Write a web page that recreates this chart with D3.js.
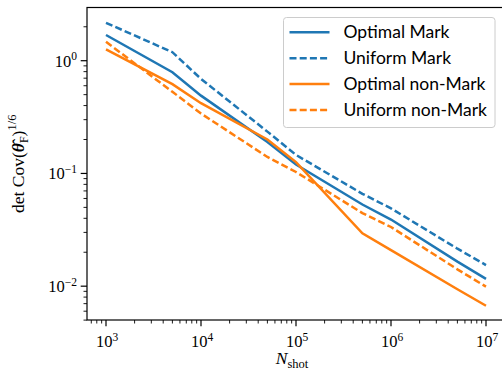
<!DOCTYPE html>
<meta charset="utf-8">
<body style="margin: 0; overflow: hidden; background: white">
<script src="https://d3js.org/d3.v7.min.js"></script>
<script>
    // values
    var nShot = [1e3, 5e3, 1e4, 5e4, 1e5, 5e5, 1e6, 5e6, 1e7];
    var optimalMark = [1.69, 0.79, 0.49, 0.19, 0.12, 0.053, 0.039, 0.0165, 0.0116];
    var uniformMark = [2.17, 1.19, 0.69, 0.235, 0.146, 0.066, 0.049, 0.0215, 0.0154];
    var optimalNonMark = [1.26, 0.62, 0.42, 0.20, 0.126, 0.0294, 0.0209, 0.0094, 0.0067];
    var uniformNonMark = [1.47, 0.53, 0.34, 0.14, 0.103, 0.0445, 0.0335, 0.0141, 0.0099];

    var seriesNames = ["Optimal Mark", "Uniform Mark", "Optimal non-Mark", "Uniform non-Mark"];
    var xTickExps = [3, 4, 5, 6, 7];
    var yTickExps = [-2, -1, 0];

    var width = 502, height = 376;
    // note: "top" is taken by window.top, so prefix these
    var mLeft = 87, mRight = 505, mTop = 7.5, mBottom = 320;

    var blue = "#1f77b4", orange = "#ff7f0e";
    var series = [
        {name: seriesNames[0], values: optimalMark, color: blue, dash: null},
        {name: seriesNames[1], values: uniformMark, color: blue, dash: "7,3.2"},
        {name: seriesNames[2], values: optimalNonMark, color: orange, dash: null},
        {name: seriesNames[3], values: uniformNonMark, color: orange, dash: "7,3.2"}
    ];

    var x = d3.scaleLog().domain([Math.pow(10, 2.8), Math.pow(10, 7.2)]).range([mLeft, mRight]);
    var y = d3.scaleLog().domain([Math.pow(10, -2.30), Math.pow(10, 0.472)]).range([mBottom, mTop]);

    var svg = d3.select("body").append("svg")
        .attr("width", width)
        .attr("height", height);

    var serif = "'Liberation Serif', 'DejaVu Serif', serif";

    // minor + major ticks
    var minorX = [], minorY = [];
    for (var e = 2; e <= 7; e++) {
        for (var m = 2; m <= 9; m++) {
            var v = m * Math.pow(10, e);
            if (x(v) >= mLeft && x(v) <= mRight) minorX.push(v);
        }
    }
    for (var e2 = -3; e2 <= 0; e2++) {
        for (var m2 = 2; m2 <= 9; m2++) {
            var w = m2 * Math.pow(10, e2);
            if (y(w) >= mTop && y(w) <= mBottom + 0.5) minorY.push(w);
        }
    }

    var axisG = svg.append("g");
    axisG.selectAll(".xminor").data(minorX).enter().append("line")
        .attr("x1", function (d) { return x(d); }).attr("x2", function (d) { return x(d); })
        .attr("y1", mBottom).attr("y2", mBottom + 3.5)
        .attr("stroke", "black").attr("stroke-width", 0.9);
    axisG.selectAll(".xmajor").data(xTickExps).enter().append("line")
        .attr("x1", function (d) { return x(Math.pow(10, d)); }).attr("x2", function (d) { return x(Math.pow(10, d)); })
        .attr("y1", mBottom).attr("y2", mBottom + 6.3)
        .attr("stroke", "black").attr("stroke-width", 1.2);
    axisG.selectAll(".yminor").data(minorY).enter().append("line")
        .attr("y1", function (d) { return y(d); }).attr("y2", function (d) { return y(d); })
        .attr("x1", mLeft).attr("x2", mLeft - 3.5)
        .attr("stroke", "black").attr("stroke-width", 0.9);
    axisG.selectAll(".ymajor").data(yTickExps).enter().append("line")
        .attr("y1", function (d) { return y(Math.pow(10, d)); }).attr("y2", function (d) { return y(Math.pow(10, d)); })
        .attr("x1", mLeft).attr("x2", mLeft - 6.3)
        .attr("stroke", "black").attr("stroke-width", 1.2);

    // tick labels like 10^k
    var xl = axisG.selectAll(".xlab").data(xTickExps).enter().append("text")
        .attr("x", function (d) { return x(Math.pow(10, d)) + 1; })
        .attr("y", 347)
        .attr("text-anchor", "middle")
        .style("font-family", serif).style("font-size", "16.5px");
    xl.append("tspan").text("10");
    xl.append("tspan").attr("dy", -6.5).style("font-size", "11.5px").text(function (d) { return d; });

    var yl = axisG.selectAll(".ylab").data(yTickExps).enter().append("text")
        .attr("x", 77)
        .attr("y", function (d) { return y(Math.pow(10, d)) + 6; })
        .attr("text-anchor", "end")
        .style("font-family", serif).style("font-size", "16.5px");
    yl.append("tspan").text("10");
    yl.append("tspan").attr("dy", -6.5).style("font-size", "11.5px")
        .text(function (d) { return d < 0 ? "\u2212" + (-d) : d; });

    // data lines
    var line = d3.line()
        .x(function (d, i) { return x(nShot[i]); })
        .y(function (d) { return y(d); });

    svg.append("g").selectAll("path").data(series).enter().append("path")
        .attr("d", function (s) { return line(s.values); })
        .attr("fill", "none")
        .attr("stroke", function (s) { return s.color; })
        .attr("stroke-width", 2.5)
        .attr("stroke-dasharray", function (s) { return s.dash; });

    // spines (right one falls just off the canvas)
    svg.append("rect")
        .attr("x", mLeft).attr("y", mTop)
        .attr("width", mRight - mLeft).attr("height", mBottom - mTop)
        .attr("fill", "none").attr("stroke", "black").attr("stroke-width", 1.2);

    // axis labels
    var xt = svg.append("text")
        .attr("x", (mLeft + mRight) / 2 - 4).attr("y", 364)
        .attr("text-anchor", "middle")
        .style("font-family", serif).style("font-size", "17.5px");
    xt.append("tspan").style("font-style", "italic").text("N");
    xt.append("tspan").attr("dy", 4).style("font-size", "12.5px").text("shot");

    var yt = svg.append("text")
        .attr("transform", "translate(24," + ((mTop + mBottom) / 2) + ") rotate(-90)")
        .attr("text-anchor", "middle")
        .style("font-family", serif).style("font-size", "17.5px");
    yt.append("tspan").text("det Cov(");
    yt.append("tspan").style("font-weight", "bold").style("font-style", "italic").text("\u03b8\u0302");
    yt.append("tspan").attr("dy", 4).style("font-size", "12px").text("F");
    yt.append("tspan").attr("dy", -4).text(")");
    yt.append("tspan").attr("dy", -8).style("font-size", "12.5px").text("1/6");

    // legend
    var lg = svg.append("g");
    lg.append("rect")
        .attr("x", 283.5).attr("y", 17.5).attr("width", 211.5).attr("height", 110)
        .attr("rx", 3).attr("ry", 3)
        .attr("fill", "white").attr("fill-opacity", 0.8)
        .attr("stroke", "#cccccc").attr("stroke-width", 1);
    var rows = lg.selectAll(".row").data(series).enter().append("g")
        .attr("transform", function (s, i) { return "translate(0," + (32.3 + i * 25.9) + ")"; });
    rows.append("line")
        .attr("x1", 289.5).attr("x2", 329.5)
        .attr("stroke", function (s) { return s.color; })
        .attr("stroke-width", 2.5)
        .attr("stroke-dasharray", function (s) { return s.dash; });
    rows.append("text")
        .attr("x", 343.5).attr("y", 6)
        .style("font-family", "Lato, 'DejaVu Sans', sans-serif").style("font-size", "17.5px")
        .text(function (s) { return s.name; });
</script>
